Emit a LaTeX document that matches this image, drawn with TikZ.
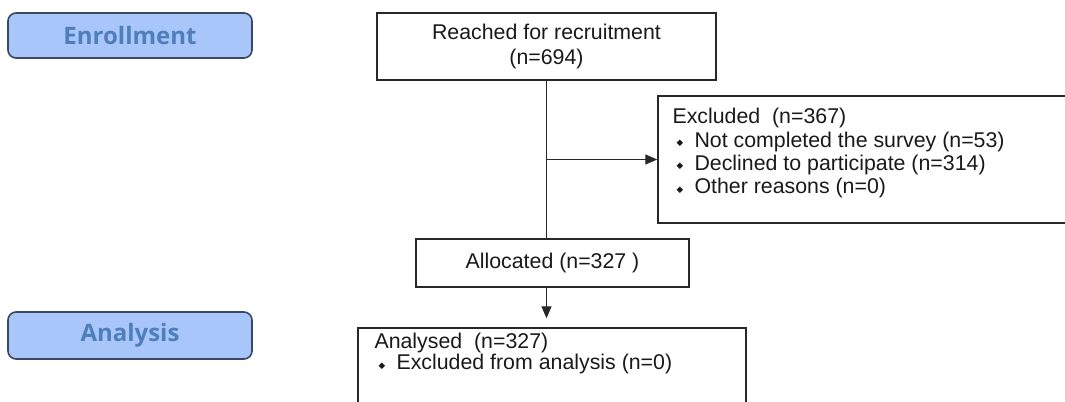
\documentclass[tikz,border=0pt]{standalone}
\usepackage{fontspec}
\setmainfont{Liberation Sans}
\newfontfamily\stagefont{Open Sans}
\newfontfamily\symfont{DejaVu Sans}
\usepackage{tikz}
\usetikzlibrary{arrows.meta, positioning, calc}
\definecolor{stageblue}{RGB}{168, 198, 250}
\definecolor{stagetext}{RGB}{79, 127, 186}
\definecolor{stageedge}{RGB}{60, 72, 98}
\definecolor{boxedge}{RGB}{40, 40, 40}
\definecolor{inktext}{RGB}{25, 25, 25}
\newcommand{\itm}{\hspace*{3pt}\raisebox{1.4pt}{\symfont\fontsize{6.5}{6.5}\selectfont ◆}\hspace{8.5pt}}
\tikzset{
  flowline/.style={line width=1pt, boxedge},
  flowarrow/.style={-{Triangle[length=9pt, width=7.5pt]}, line width=1pt, boxedge},
  stagebox/.style={rectangle, rounded corners=6pt, draw=stageedge, line width=1.2pt, fill=stageblue, text=stagetext, font=\stagefont\bfseries\fontsize{18}{21}\selectfont, minimum width=183pt},
  flowbox/.style={rectangle, draw=boxedge, line width=1.1pt, text=inktext, align=center, font=\fontsize{16}{19}\selectfont},
  listtext/.style={inner sep=0pt, align=left, text=inktext, font=\fontsize{16}{17.5}\selectfont}
}

\begin{document}
\begin{tikzpicture}[x=0.75pt, y=0.75pt]
    % frame of the page
    \clip (0, 0) rectangle (1065, 401);
    \useasboundingbox (0, 0) rectangle (1065, 401);

    % Stage labels
    \node[stagebox, minimum height=33.75pt] (enroll) at (130, 365.5) {Enrollment};
    \node[stagebox, minimum height=35.25pt] (analysis) at (130, 65.5) {Analysis};

    % Flow boxes
    \node[flowbox, minimum width=254.25pt, minimum height=50.25pt] (reached) at (546.5, 354.5) {Reached for recruitment\\(n=694)};
    \node[flowbox, minimum width=330pt, minimum height=95.25pt] (excl) at (878, 241.5) {};
    \node[listtext, anchor=north west] (excltxt) at ([xshift=11.25pt, yshift=-9.75pt]excl.north west)
        {Excluded\ \ (n=367)\\\itm Not completed the survey (n=53)\\\itm Declined to participate (n=314)\\\itm Other reasons (n=0)};
    \node[flowbox, minimum width=204.75pt, minimum height=36pt] (alloc) at (552.5, 138) {Allocated (n=327 )};
    \node[flowbox, minimum width=291pt, minimum height=76.5pt] (analysed) at (552, 22) {};
    \node[listtext, anchor=north west, font=\fontsize{16}{15.75}\selectfont] (analtxt) at ([xshift=12.75pt, yshift=-4.5pt]analysed.north west)
        {Analysed\ \ (n=327)\\\itm Excluded from analysis (n=0)};

    % Connectors
    \coordinate (trunk) at (reached.south);
    \coordinate (branch) at (trunk |- excl.west);
    \draw[flowline] (trunk) -- (trunk |- alloc.north);
    \draw[flowarrow] (branch) -- (excl.west);
    \draw[flowarrow, shorten >=6.75pt] (trunk |- alloc.south) -- (trunk |- analysed.north);
\end{tikzpicture}
\end{document}
